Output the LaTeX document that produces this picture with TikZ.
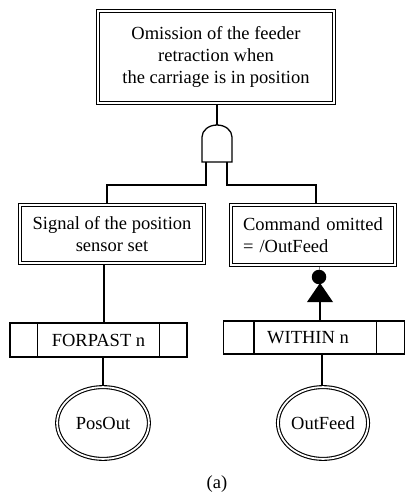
\documentclass[tikz,border=0pt]{standalone}
\usepackage{fontspec}
\setmainfont{Liberation Serif}
\usetikzlibrary{shapes.geometric,calc}
\begin{document}
\begin{tikzpicture}[x=1pt,y=-1pt,
  every node/.style={font=\fontsize{18.5}{22}\selectfont},
  ln/.style={line width=1.3pt},
  dblbox/.style={draw, double, line width=1.2pt, double distance=1.8pt, rectangle, inner sep=0pt, outer sep=2.1pt},
  dblell/.style={draw, double, line width=1.1pt, double distance=1.8pt, ellipse, inner sep=0pt, outer sep=2pt},
  tempbox/.style={draw, line width=1.3pt, rectangle, inner sep=0pt, outer sep=0.65pt}
]
\useasboundingbox (0,0) rectangle (406,502);

% top event
\node[dblbox, minimum width=235.8pt, minimum height=91.8pt, align=center] (top) at (216,57)
  {Omission of the feeder\\retraction when\\the carriage is in position};

% AND gate
\coordinate (gtop) at (217,125);
\coordinate (gl) at (206,162);
\coordinate (gr) at (227,162);
\draw[ln] (202,162) -- (202,137) arc[start angle=180, end angle=0, x radius=15pt, y radius=12pt] -- (232,162) -- cycle;
\draw[ln] (top.south -| gtop) -- (gtop);

% intermediate events
\node[dblbox, minimum width=183.8pt, minimum height=57.8pt, align=center] (left) at (112,234)
  {Signal of the position\\sensor set};
\node[dblbox, minimum width=163.8pt, minimum height=59.8pt, text width=140pt, align=left] (right) at (313,235)
  {Command omitted\\= /OutFeed};

\draw[ln] (gl) -- ++(0,23) -| ([xshift=-5pt]left.north);
\draw[ln] (gr) -- ++(0,23) -| ([xshift=3pt]right.north);

% temporal operators
\node[tempbox, minimum width=177pt, minimum height=34pt] (fp) at (98.5,340) {FORPAST n};
\draw[ln] ([xshift=28pt]fp.north west) -- ([xshift=28pt]fp.south west);
\draw[ln] ([xshift=-28pt]fp.north east) -- ([xshift=-28pt]fp.south east);

\node[tempbox, minimum width=181pt, minimum height=33pt] (wi) at (314,337.5) {\hspace*{-12pt}WITHIN n};
\draw[ln] ([xshift=31pt]wi.north west) -- ([xshift=31pt]wi.south west);
\draw[ln] ([xshift=-29pt]wi.north east) -- ([xshift=-29pt]wi.south east);

\coordinate (lcol) at (104,0);
\draw[ln] (left.south -| lcol) -- (fp.north -| lcol);

% basic events
\node[dblell, minimum width=91.8pt, minimum height=71.8pt] (po) at (103,423) {PosOut};
\node[dblell, minimum width=85.8pt, minimum height=71.8pt] (of) at (323,423) {OutFeed};

\draw[ln] (fp.south -| po.north) -- (po.north);
\draw[ln] (wi.south -| 322,0) -- (of.north -| 322,0);

% ball and triangle marker
\node[circle, fill, inner sep=0pt, minimum size=14.5pt] (ball) at (319,277) {};
\coordinate (triapex) at (320,283);
\coordinate (tribase) at (320,302);
\fill (triapex) -- (333,302) -- (307,302) -- cycle;
\draw[line width=0.5pt, gray] (right.south -| ball) -- (ball.north);
\draw[ln] (tribase) -- (wi.north -| tribase);

\node (cap) at (217,484) {(a)};
\end{tikzpicture}
\end{document}
